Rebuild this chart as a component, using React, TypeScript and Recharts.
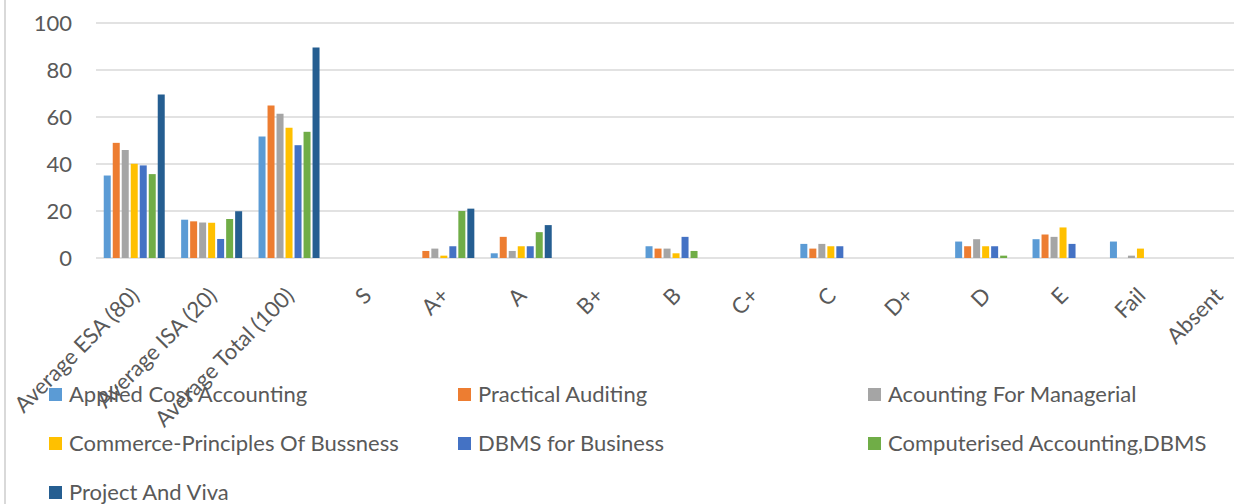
import React from 'react';
import { BarChart, Bar, XAxis, YAxis, CartesianGrid, Legend } from 'recharts';

const categories = [
  'Average ESA (80)', 'Average ISA (20)', 'Average Total (100)', 'S', 'A+', 'A', 'B+', 'B',
  'C+', 'C', 'D+', 'D', 'E', 'Fail', 'Absent',
];

const appliedCostAccounting = [35.1, 16.3, 51.7, 0, 0, 2, 0, 5, 0, 6, 0, 7, 8, 7, 0];
const practicalAuditing = [49, 15.6, 64.9, 0, 3, 9, 0, 4, 0, 4, 0, 5, 10, 0, 0];
const acountingForManagerial = [46, 15.1, 61.4, 0, 4, 3, 0, 4, 0, 6, 0, 8, 9, 1, 0];
const commercePrinciples = [40.1, 15, 55.4, 0, 1, 5, 0, 2, 0, 5, 0, 5, 13, 4, 0];
const dbmsForBusiness = [39.4, 8.1, 48, 0, 5, 5, 0, 9, 0, 5, 0, 5, 6, 0, 0];
const computerisedAccounting = [35.7, 16.6, 53.7, 0, 20, 11, 0, 3, 0, 0, 0, 1, 0, 0, 0];
const projectAndViva = [69.6, 19.9, 89.6, 0, 21, 14, 0, 0, 0, 0, 0, 0, 0, 0, 0];

const seriesNames = [
  'Applied Cost Accounting',
  'Practical Auditing',
  'Acounting For Managerial',
  'Commerce-Principles Of Bussness',
  'DBMS for Business',
  'Computerised Accounting,DBMS',
  'Project And Viva',
];

const seriesValues = [
  appliedCostAccounting,
  practicalAuditing,
  acountingForManagerial,
  commercePrinciples,
  dbmsForBusiness,
  computerisedAccounting,
  projectAndViva,
];

const seriesColors = ['#5B9BD5', '#ED7D31', '#A5A5A5', '#FFC000', '#4472C4', '#70AD47', '#255E91'];

const yTicks = [0, 20, 40, 60, 80, 100];

const data = categories.map((category, i) => {
  const row: Record<string, string | number> = { category };
  seriesValues.forEach((vals, s) => {
    row['s' + s] = vals[i];
  });
  return row;
});

const FONT = 'Lato, "Open Sans", sans-serif';
const TEXT = '#595959';
const LEGEND_COLS = [49, 458, 868];

function XTick(props: any) {
  const { x, y, payload } = props;
  const ax = x + 6;
  const ay = y + 39;
  return (
    <text
      x={ax}
      y={ay}
      textAnchor="end"
      transform={`rotate(-45, ${ax}, ${ay})`}
      fontSize={22}
      fontFamily={FONT}
      fill={TEXT}
    >
      {payload.value}
    </text>
  );
}

function LegendContent() {
  return (
    <div style={{ position: 'relative', width: 1234, height: 124, fontFamily: FONT }}>
      {seriesNames.map((name, i) => {
        const col = i % 3;
        const row = Math.floor(i / 3);
        return (
          <div
            key={name}
            style={{
              position: 'absolute',
              left: LEGEND_COLS[col],
              top: row * 49,
              height: 28,
              display: 'flex',
              alignItems: 'center',
              whiteSpace: 'nowrap',
            }}
          >
            <span
              style={{
                display: 'inline-block',
                width: 13,
                height: 13,
                background: seriesColors[i],
                marginRight: 7,
              }}
            />
            <span style={{ fontSize: 22, color: TEXT, lineHeight: '28px' }}>{name}</span>
          </div>
        );
      })}
    </div>
  );
}

export default function App() {
  return (
    <div
      style={{
        position: 'absolute',
        left: 0,
        top: 0,
        width: 1234,
        height: 504,
        overflow: 'hidden',
        background: '#fff',
      }}
    >
      <div
        style={{ position: 'absolute', left: 4, top: 0, width: 2, height: 504, background: '#d9d9d9' }}
      />
      <BarChart
        width={1290}
        height={504}
        data={data}
        margin={{ top: 23, right: 33, left: 0, bottom: 186 }}
        barCategoryGap="10%"
        barGap={2}
      >
        <CartesianGrid vertical={false} stroke="#d9d9d9" strokeWidth={1.5} />
        <XAxis
          dataKey="category"
          interval={0}
          tickLine={false}
          axisLine={false}
          tickSize={0}
          tickMargin={0}
          height={60}
          tick={<XTick />}
        />
        <YAxis
          domain={[0, 100]}
          ticks={yTicks}
          width={96}
          tickLine={false}
          axisLine={false}
          tickSize={0}
          tickMargin={24}
          tick={{ fontSize: 22, fontFamily: FONT, fill: TEXT }}
        />
        <Legend
          layout="horizontal"
          verticalAlign="middle"
          align="center"
          wrapperStyle={{ top: 380, left: 0, width: 1234, height: 124 }}
          content={<LegendContent />}
        />
        {seriesNames.map((name, s) => (
          <Bar key={name} dataKey={'s' + s} name={name} fill={seriesColors[s]} isAnimationActive={false} />
        ))}
      </BarChart>
    </div>
  );
}
